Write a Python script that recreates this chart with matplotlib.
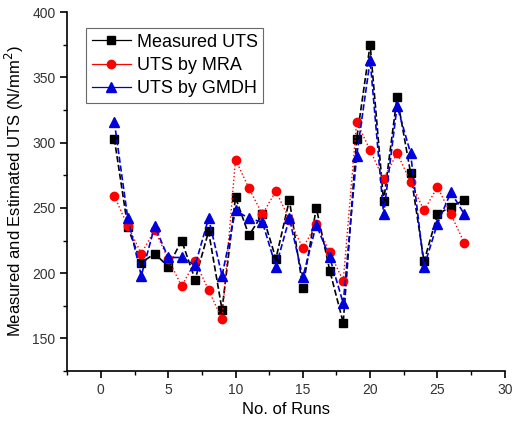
import numpy as np
import matplotlib
matplotlib.use('Agg')
import matplotlib.pyplot as plt
from matplotlib.ticker import MultipleLocator

plt.rcParams['font.family'] = ['Liberation Sans', 'DejaVu Sans']

# data
runs = list(range(1, 28))
measured = [303, 235, 208, 215, 205, 225, 195, 232, 172, 258, 229, 245, 211, 256,
            189, 250, 202, 162, 303, 375, 255, 335, 277, 209, 245, 251, 256]
mra = [259, 236, 215, 233, 211, 190, 209, 187, 165, 287, 265, 245, 263, 241,
       219, 238, 216, 194, 316, 294, 272, 292, 270, 248, 266, 245, 223]
gmdh = [316, 242, 198, 236, 212, 212, 206, 242, 198, 248, 242, 239, 205, 242,
        197, 237, 212, 177, 290, 363, 245, 328, 292, 205, 238, 262, 245]

fig = plt.figure(figsize=(5.13, 4.29), dpi=100)
ax = fig.add_axes([0.131, 0.135, 0.853, 0.837])

ax.plot(runs, measured, color='black', ls='--', lw=1.2, marker='s', ms=6,
        label='Measured UTS')
ax.plot(runs, mra, color='red', ls=':', lw=1.0, marker='o', ms=6,
        label='UTS by MRA')
ax.plot(runs, gmdh, color='#0000dd', ls='--', lw=1.2, marker='^', ms=7,
        label='UTS by GMDH')

ax.set_xlim(-2.5, 30)
ax.set_ylim(125, 400)
ax.xaxis.set_major_locator(MultipleLocator(5))
ax.xaxis.set_minor_locator(MultipleLocator(2.5))
ax.yaxis.set_major_locator(MultipleLocator(50))
ax.yaxis.set_minor_locator(MultipleLocator(25))
ax.set_yticks([150, 200, 250, 300, 350, 400])

ax.spines['top'].set_visible(False)
ax.spines['right'].set_visible(False)
for s in ('left', 'bottom'):
    ax.spines[s].set_linewidth(1.2)
ax.tick_params(which='major', direction='out', length=5, width=1.2,
               labelsize=10, labelcolor='#333333')
ax.tick_params(which='minor', direction='out', length=3, width=1.0)

ax.set_xlabel('No. of Runs', fontsize=12)
ax.set_ylabel('Measured and Estimated UTS (N/mm$^2$)', fontsize=12)

leg = ax.legend(loc='upper left', bbox_to_anchor=(0.035, 0.965), fontsize=13,
                frameon=True, fancybox=False, handlelength=2.2,
                borderpad=0.3, labelspacing=0.35, handletextpad=0.3,
                borderaxespad=0.2)
leg.get_frame().set_edgecolor('#444444')
leg.get_frame().set_linewidth(0.8)
for ln in leg.get_lines():
    ln.set_linestyle('-')
    ln.set_linewidth(0.9)

fig.savefig('out.png', dpi=100)
